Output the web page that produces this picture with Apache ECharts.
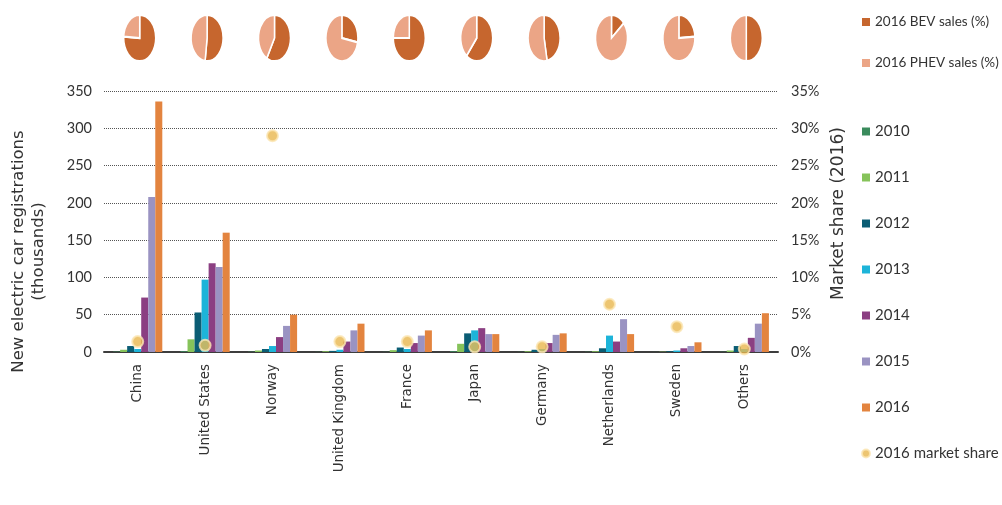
<!DOCTYPE html>
<html>
<head>
<meta charset="utf-8">
<script src="https://cdn.jsdelivr.net/npm/echarts@6/dist/echarts.min.js"></script>
<style>
  html, body { margin: 0; padding: 0; background: #fff; }
  #chart { width: 1002px; height: 505px; }
</style>
</head>
<body>
<div id="chart"></div>
<script>
// Countries on the category axis
const countries = ['China', 'United States', 'Norway', 'United Kingdom', 'France',
                   'Japan', 'Germany', 'Netherlands', 'Sweden', 'Others'];

// New electric car registrations (thousands) per year
const y2010 = [0.5, 1.0, 0.4, 0.2, 0.2, 1.0, 0.2, 0.3, 0.1, 0.3];
const y2011 = [3, 17, 2, 1, 2.5, 11, 1, 1, 0.4, 2];
const y2012 = [8, 53, 4, 1.5, 6, 25, 3, 5, 1, 8];
const y2013 = [4, 97, 8, 3, 4, 29, 4, 22, 2, 4];
const y2014 = [73, 119, 20, 14, 12, 32, 12, 14, 5, 19];
const y2015 = [208, 114, 35, 29, 22, 24, 23, 44, 8, 38];
const y2016 = [336, 160, 50, 38, 29, 24, 25, 24, 13, 52];

// 2016 market share of electric cars (%)
const marketShare = [1.4, 0.9, 29, 1.4, 1.4, 0.7, 0.7, 6.4, 3.4, 0.4];

// 2016 split of electric car sales: battery-electric vs plug-in hybrid (%)
const bevShare = [76, 52, 58, 28, 75, 61, 47, 14, 24, 50];
const phevShare = bevShare.map(v => 100 - v);

// Tick values for both value axes
const leftTicks = { min: 0, max: 350, interval: 50 };
const rightTicks = { min: 0, max: 35, interval: 5 };

const yearSeries = [
  { name: '2010', data: y2010, color: '#3a8b5c' },
  { name: '2011', data: y2011, color: '#86c35a' },
  { name: '2012', data: y2012, color: '#0b5d74' },
  { name: '2013', data: y2013, color: '#1db4d9' },
  { name: '2014', data: y2014, color: '#8b3f82' },
  { name: '2015', data: y2015, color: '#9a93c2' },
  { name: '2016', data: y2016, color: '#e3843f' }
];

const BEV_COLOR = '#c6662e';
const PHEV_COLOR = '#eba586';
const PIE_R = 16;
const PIE_STRETCH = 1.45;
const PIE_Y = 38;

// Small stretched pie above each country: one slice per series, clockwise from 12 o'clock
function pieSlice(isFirst) {
  return function (params, api) {
    const x = api.coord([api.value(0), 0])[0] + 2;
    const share = api.value(1) / 100;
    const top = -Math.PI / 2;
    let start, end;
    if (isFirst) { start = top; end = top + 2 * Math.PI * share; }
    else { start = top + 2 * Math.PI * (1 - share); end = top + 2 * Math.PI; }
    return {
      type: 'group',
      x: x, y: PIE_Y, scaleY: PIE_STRETCH,
      children: [{
        type: 'sector',
        shape: { cx: 0, cy: 0, r: PIE_R, r0: 0, startAngle: start, endAngle: end, clockwise: true },
        style: { fill: api.visual('color'), stroke: '#ffffff', lineWidth: 1.5 },
        strokeNoScale: true
      }]
    };
  };
}

const FONT = 'Lato, "Open Sans", sans-serif';
const WIDE = '"DejaVu Sans", sans-serif';

const chart = echarts.init(document.getElementById('chart'), null, { renderer: 'canvas' });

const series = yearSeries.map(s => ({
  name: s.name,
  type: 'bar',
  data: s.data,
  barGap: '0%',
  barCategoryGap: '27%',
  itemStyle: { color: s.color },
  z: 2
}));

series.push({
  name: '2016 market share',
  type: 'scatter',
  yAxisIndex: 1,
  data: marketShare,
  symbolSize: 11,
  itemStyle: { color: '#e8b64e', borderColor: '#fbe6b4', borderWidth: 2 },
  z: 5
});

series.push({
  name: '2016 BEV sales (%)',
  type: 'custom',
  data: bevShare.map((v, i) => [i, v]),
  renderItem: pieSlice(true),
  itemStyle: { color: BEV_COLOR },
  clip: false,
  z: 6
});
series.push({
  name: '2016 PHEV sales (%)',
  type: 'custom',
  data: phevShare.map((v, i) => [i, v]),
  renderItem: pieSlice(false),
  itemStyle: { color: PHEV_COLOR },
  clip: false,
  z: 6
});

chart.setOption({
  animation: false,
  backgroundColor: '#ffffff',
  grid: { left: 104, right: 224, top: 91, bottom: 153, containLabel: false },
  legend: [
    {
      data: ['2016 BEV sales (%)', '2016 PHEV sales (%)'],
      orient: 'vertical',
      left: 857, top: 10,
      itemWidth: 8, itemHeight: 8, itemGap: 27,
      icon: 'rect',
      selectedMode: false,
      textStyle: { fontFamily: FONT, fontSize: 13.5, color: '#333' }
    },
    {
      data: [
        { name: '2010', icon: 'rect' }, { name: '2011', icon: 'rect' },
        { name: '2012', icon: 'rect' }, { name: '2013', icon: 'rect' },
        { name: '2014', icon: 'rect' }, { name: '2015', icon: 'rect' },
        { name: '2016', icon: 'rect' }, { name: '2016 market share', icon: 'circle' }
      ],
      orient: 'vertical',
      left: 856, top: 119,
      itemWidth: 8, itemHeight: 8, itemGap: 31,
      selectedMode: false,
      textStyle: { fontFamily: FONT, fontSize: 15, color: '#333' }
    }
  ],
  xAxis: {
    type: 'category',
    data: countries,
    axisLine: { show: true, lineStyle: { color: '#3d3d3d', width: 2 } },
    axisTick: { show: false },
    axisLabel: {
      rotate: 90,
      interval: 0,
      margin: 12,
      fontFamily: WIDE,
      fontSize: 13.5,
      color: '#333'
    }
  },
  yAxis: [
    {
      type: 'value',
      min: leftTicks.min, max: leftTicks.max, interval: leftTicks.interval,
      name: 'New electric car registrations\n(thousands)',
      nameLocation: 'middle',
      nameGap: 55,
      nameRotate: 90,
      nameTextStyle: { fontFamily: WIDE, fontSize: 16.5, color: '#333', lineHeight: 20, padding: [0, 60, 0, 0] },
      axisLine: { show: false },
      axisTick: { show: false },
      axisLabel: { margin: 12, fontFamily: FONT, fontSize: 14.5, color: '#333' },
      splitLine: { show: true, lineStyle: { type: 'dotted', color: '#555', width: 1 } }
    },
    {
      type: 'value',
      min: rightTicks.min, max: rightTicks.max, interval: rightTicks.interval,
      name: 'Market share (2016)',
      nameLocation: 'middle',
      nameGap: 26,
      nameRotate: 90,
      nameTextStyle: { fontFamily: WIDE, fontSize: 17, color: '#333', padding: [0, 0, 0, 16] },
      axisLine: { show: false },
      axisTick: { show: false },
      axisLabel: { margin: 13, fontFamily: FONT, fontSize: 14.5, color: '#333', formatter: '{value}%' },
      splitLine: { show: false }
    }
  ],
  series: series
});
</script>
</body>
</html>
